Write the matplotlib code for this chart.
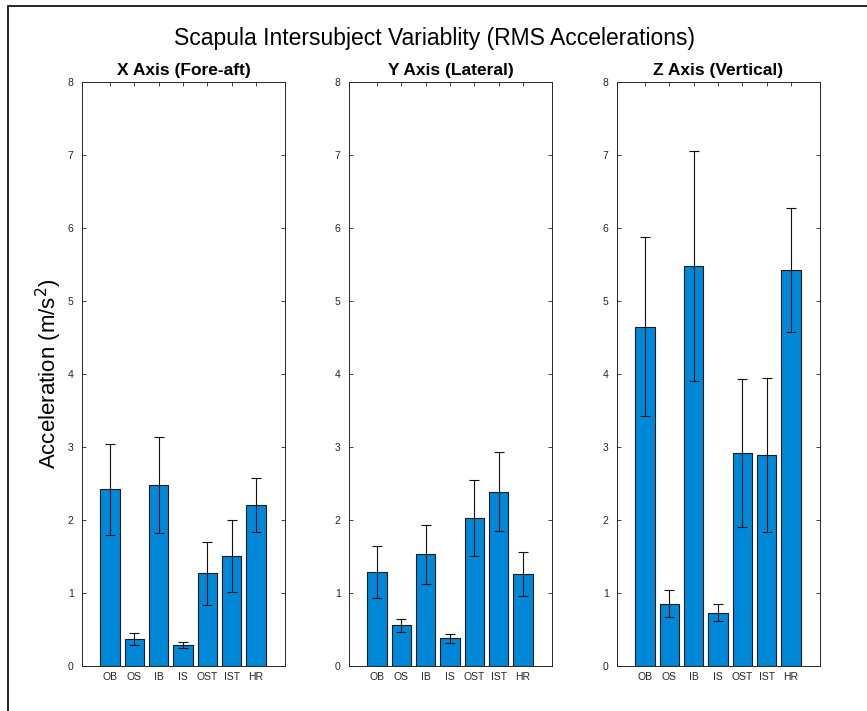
import matplotlib
matplotlib.use("Agg")
import matplotlib.pyplot as plt
from matplotlib.patches import Rectangle
import numpy as np

plt.rcParams['font.family'] = ['Liberation Sans', 'DejaVu Sans']

categories = ["OB", "OS", "IB", "IS", "OST", "IST", "HR"]
panel_titles = ["X Axis (Fore-aft)", "Y Axis (Lateral)", "Z Axis (Vertical)"]

# Mean RMS acceleration per location (m/s^2)
x_means = [2.42, 0.37, 2.48, 0.29, 1.27, 1.51, 2.20]
y_means = [1.29, 0.56, 1.53, 0.38, 2.03, 2.39, 1.26]
z_means = [4.65, 0.85, 5.48, 0.73, 2.92, 2.89, 5.43]

# Standard deviation across subjects
x_err = [0.62, 0.08, 0.66, 0.045, 0.43, 0.49, 0.37]
y_err = [0.36, 0.09, 0.40, 0.065, 0.52, 0.54, 0.30]
z_err = [1.23, 0.185, 1.58, 0.12, 1.01, 1.055, 0.85]

yticks = [0, 1, 2, 3, 4, 5, 6, 7, 8]

means = [x_means, y_means, z_means]
errs = [x_err, y_err, z_err]

W, H = 867, 711
fig = plt.figure(figsize=(W / 100, H / 100), dpi=100)

# figure window frame (left and top edges)
fig.add_artist(Rectangle((8 / W, -0.1), 1.2, 1 - 6 / H + 0.1,
                         transform=fig.transFigure, fill=False,
                         edgecolor='black', linewidth=1.2))

bar_color = '#0088D8'
axis_color = '#262626'
lefts = [82, 349, 617]
ax_w = 203
ax_bottom = 1 - 666 / H
ax_h = (666 - 82) / H

pos = np.arange(len(categories))
for i in range(3):
    ax = fig.add_axes([lefts[i] / W, ax_bottom, ax_w / W, ax_h])
    ax.bar(pos, means[i], width=0.8, color=bar_color,
           edgecolor='#1a1a1a', linewidth=0.8, zorder=2)
    ax.errorbar(pos, means[i], yerr=errs[i], fmt='none', ecolor='#111111',
                elinewidth=0.8, capsize=3.5, capthick=0.8, zorder=3)
    ax.set_xlim(-1.16, 7.2)
    ax.set_ylim(0, 8)
    ax.set_yticks(yticks)
    ax.set_xticks(pos)
    ax.set_xticklabels(categories)
    ax.tick_params(direction='in', length=3, width=0.6, colors=axis_color,
                   labelsize=7.5, top=True, right=True, pad=4)
    ax.tick_params(axis='y', pad=6)
    for sp in ax.spines.values():
        sp.set_color(axis_color)
        sp.set_linewidth(0.7)
    ax.set_title(panel_titles[i], fontsize=12.5, fontweight='bold', pad=5)
    if i == 0:
        ax.set_ylabel("Acceleration (m/s$^2$)", fontsize=16, labelpad=3)

fig.suptitle("Scapula Intersubject Variablity (RMS Accelerations)",
             fontsize=16.5, x=434 / W, y=1 - 38 / H, va='center')

fig.savefig("out.png", dpi=100, facecolor='white')
